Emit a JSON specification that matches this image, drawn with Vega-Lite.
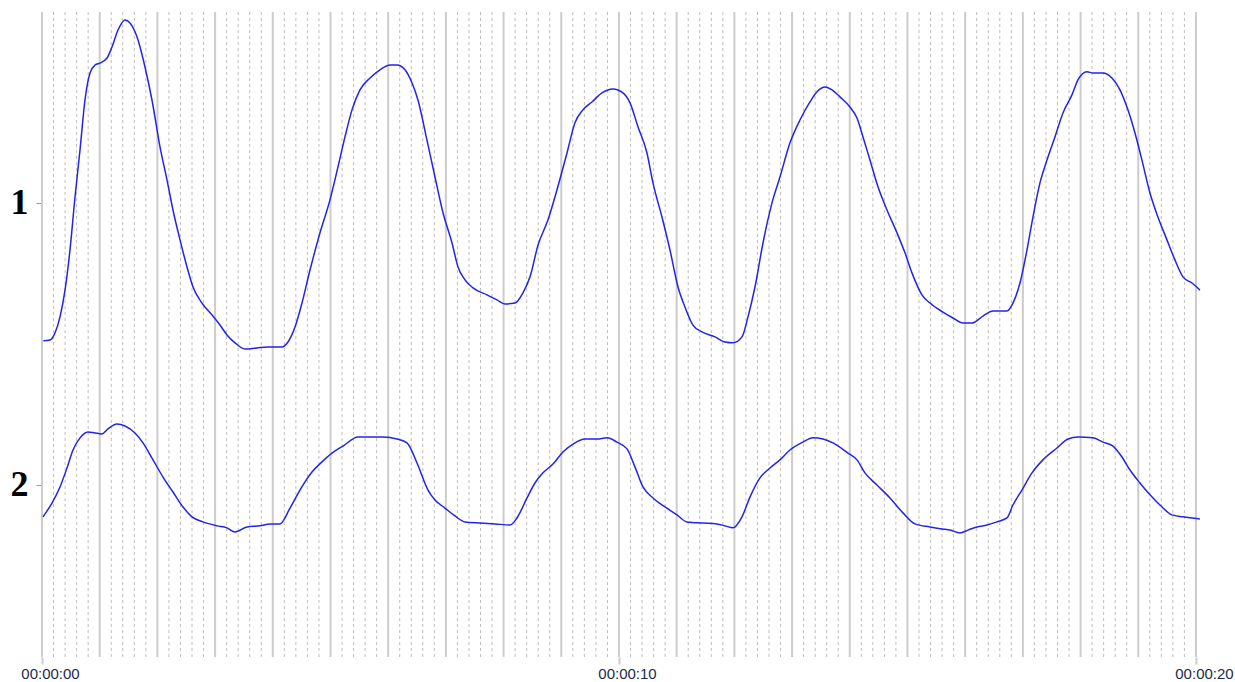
{
  "$schema": "https://vega.github.io/schema/vega-lite/v6.json",
  "autosize": {"type": "none"},
  "padding": {"left": 42, "top": 12, "right": 35, "bottom": 25},
  "width": 1158,
  "height": 645,
  "background": "white",
  "config": {"view": {"stroke": null}},
  "datasets": {
    "major": [{"t":0},{"t":1},{"t":2},{"t":3},{"t":4},{"t":5},{"t":6},{"t":7},{"t":8},{"t":9},{"t":10},{"t":11},{"t":12},{"t":13},{"t":14},{"t":15},{"t":16},{"t":17},{"t":18},{"t":19},{"t":20}],
    "minor": [{"t":0.2},{"t":0.4},{"t":0.6},{"t":0.8},{"t":1.2},{"t":1.4},{"t":1.6},{"t":1.8},{"t":2.2},{"t":2.4},{"t":2.6},{"t":2.8},{"t":3.2},{"t":3.4},{"t":3.6},{"t":3.8},{"t":4.2},{"t":4.4},{"t":4.6},{"t":4.8},{"t":5.2},{"t":5.4},{"t":5.6},{"t":5.8},{"t":6.2},{"t":6.4},{"t":6.6},{"t":6.8},{"t":7.2},{"t":7.4},{"t":7.6},{"t":7.8},{"t":8.2},{"t":8.4},{"t":8.6},{"t":8.8},{"t":9.2},{"t":9.4},{"t":9.6},{"t":9.8},{"t":10.2},{"t":10.4},{"t":10.6},{"t":10.8},{"t":11.2},{"t":11.4},{"t":11.6},{"t":11.8},{"t":12.2},{"t":12.4},{"t":12.6},{"t":12.8},{"t":13.2},{"t":13.4},{"t":13.6},{"t":13.8},{"t":14.2},{"t":14.4},{"t":14.6},{"t":14.8},{"t":15.2},{"t":15.4},{"t":15.6},{"t":15.8},{"t":16.2},{"t":16.4},{"t":16.6},{"t":16.8},{"t":17.2},{"t":17.4},{"t":17.6},{"t":17.8},{"t":18.2},{"t":18.4},{"t":18.6},{"t":18.8},{"t":19.2},{"t":19.4},{"t":19.6},{"t":19.8}],
    "signal": [
      {"ch":"1","t":0.023,"v":1.489},{"ch":"1","t":0.139,"v":1.486},{"ch":"1","t":0.225,"v":1.461},{"ch":"1","t":0.312,"v":1.404},{"ch":"1","t":0.399,"v":1.309},{"ch":"1","t":0.485,"v":1.167},{"ch":"1","t":0.572,"v":0.979},{"ch":"1","t":0.659,"v":0.812},{"ch":"1","t":0.745,"v":0.635},{"ch":"1","t":0.832,"v":0.539},{"ch":"1","t":0.919,"v":0.511},{"ch":"1","t":1.005,"v":0.504},{"ch":"1","t":1.127,"v":0.486},{"ch":"1","t":1.213,"v":0.447},{"ch":"1","t":1.317,"v":0.387},{"ch":"1","t":1.438,"v":0.351},{"ch":"1","t":1.525,"v":0.362},{"ch":"1","t":1.646,"v":0.411},{"ch":"1","t":1.785,"v":0.518},{"ch":"1","t":1.906,"v":0.635},{"ch":"1","t":2.045,"v":0.801},{"ch":"1","t":2.166,"v":0.918},{"ch":"1","t":2.27,"v":1.025},{"ch":"1","t":2.392,"v":1.131},{"ch":"1","t":2.513,"v":1.227},{"ch":"1","t":2.617,"v":1.298},{"ch":"1","t":2.773,"v":1.355},{"ch":"1","t":2.946,"v":1.397},{"ch":"1","t":3.085,"v":1.433},{"ch":"1","t":3.206,"v":1.468},{"ch":"1","t":3.345,"v":1.496},{"ch":"1","t":3.518,"v":1.518},{"ch":"1","t":3.726,"v":1.514},{"ch":"1","t":3.917,"v":1.511},{"ch":"1","t":4.159,"v":1.511},{"ch":"1","t":4.263,"v":1.493},{"ch":"1","t":4.385,"v":1.44},{"ch":"1","t":4.506,"v":1.355},{"ch":"1","t":4.645,"v":1.238},{"ch":"1","t":4.818,"v":1.106},{"ch":"1","t":4.991,"v":0.989},{"ch":"1","t":5.13,"v":0.872},{"ch":"1","t":5.251,"v":0.766},{"ch":"1","t":5.373,"v":0.67},{"ch":"1","t":5.511,"v":0.599},{"ch":"1","t":5.685,"v":0.557},{"ch":"1","t":5.858,"v":0.528},{"ch":"1","t":6.031,"v":0.511},{"ch":"1","t":6.153,"v":0.511},{"ch":"1","t":6.291,"v":0.528},{"ch":"1","t":6.412,"v":0.574},{"ch":"1","t":6.516,"v":0.635},{"ch":"1","t":6.672,"v":0.777},{"ch":"1","t":6.811,"v":0.908},{"ch":"1","t":6.95,"v":1.035},{"ch":"1","t":7.106,"v":1.142},{"ch":"1","t":7.21,"v":1.227},{"ch":"1","t":7.331,"v":1.273},{"ch":"1","t":7.47,"v":1.301},{"ch":"1","t":7.712,"v":1.326},{"ch":"1","t":7.886,"v":1.344},{"ch":"1","t":8.024,"v":1.358},{"ch":"1","t":8.198,"v":1.355},{"ch":"1","t":8.336,"v":1.319},{"ch":"1","t":8.458,"v":1.262},{"ch":"1","t":8.596,"v":1.15},{"ch":"1","t":8.77,"v":1.06},{"ch":"1","t":8.925,"v":0.954},{"ch":"1","t":9.099,"v":0.823},{"ch":"1","t":9.237,"v":0.716},{"ch":"1","t":9.376,"v":0.67},{"ch":"1","t":9.532,"v":0.642},{"ch":"1","t":9.705,"v":0.61},{"ch":"1","t":9.896,"v":0.596},{"ch":"1","t":10.069,"v":0.61},{"ch":"1","t":10.191,"v":0.645},{"ch":"1","t":10.329,"v":0.73},{"ch":"1","t":10.485,"v":0.823},{"ch":"1","t":10.589,"v":0.929},{"ch":"1","t":10.745,"v":1.05},{"ch":"1","t":10.884,"v":1.167},{"ch":"1","t":11.023,"v":1.298},{"ch":"1","t":11.144,"v":1.369},{"ch":"1","t":11.282,"v":1.433},{"ch":"1","t":11.438,"v":1.457},{"ch":"1","t":11.664,"v":1.475},{"ch":"1","t":11.837,"v":1.493},{"ch":"1","t":11.976,"v":1.496},{"ch":"1","t":12.132,"v":1.475},{"ch":"1","t":12.236,"v":1.404},{"ch":"1","t":12.357,"v":1.298},{"ch":"1","t":12.496,"v":1.142},{"ch":"1","t":12.652,"v":1.0},{"ch":"1","t":12.79,"v":0.908},{"ch":"1","t":12.964,"v":0.787},{"ch":"1","t":13.137,"v":0.706},{"ch":"1","t":13.31,"v":0.642},{"ch":"1","t":13.432,"v":0.606},{"ch":"1","t":13.57,"v":0.589},{"ch":"1","t":13.692,"v":0.599},{"ch":"1","t":13.83,"v":0.624},{"ch":"1","t":14.003,"v":0.66},{"ch":"1","t":14.125,"v":0.699},{"ch":"1","t":14.229,"v":0.766},{"ch":"1","t":14.35,"v":0.848},{"ch":"1","t":14.489,"v":0.943},{"ch":"1","t":14.645,"v":1.025},{"ch":"1","t":14.818,"v":1.106},{"ch":"1","t":14.957,"v":1.177},{"ch":"1","t":15.078,"v":1.248},{"ch":"1","t":15.251,"v":1.326},{"ch":"1","t":15.39,"v":1.355},{"ch":"1","t":15.615,"v":1.387},{"ch":"1","t":15.789,"v":1.408},{"ch":"1","t":15.962,"v":1.426},{"ch":"1","t":16.118,"v":1.426},{"ch":"1","t":16.308,"v":1.401},{"ch":"1","t":16.482,"v":1.383},{"ch":"1","t":16.724,"v":1.383},{"ch":"1","t":16.828,"v":1.355},{"ch":"1","t":16.95,"v":1.284},{"ch":"1","t":17.071,"v":1.167},{"ch":"1","t":17.175,"v":1.05},{"ch":"1","t":17.296,"v":0.929},{"ch":"1","t":17.418,"v":0.848},{"ch":"1","t":17.556,"v":0.766},{"ch":"1","t":17.695,"v":0.681},{"ch":"1","t":17.851,"v":0.617},{"ch":"1","t":17.955,"v":0.564},{"ch":"1","t":18.111,"v":0.535},{"ch":"1","t":18.215,"v":0.539},{"ch":"1","t":18.388,"v":0.539},{"ch":"1","t":18.544,"v":0.557},{"ch":"1","t":18.683,"v":0.599},{"ch":"1","t":18.821,"v":0.67},{"ch":"1","t":18.943,"v":0.752},{"ch":"1","t":19.064,"v":0.848},{"ch":"1","t":19.203,"v":0.965},{"ch":"1","t":19.341,"v":1.05},{"ch":"1","t":19.497,"v":1.131},{"ch":"1","t":19.636,"v":1.202},{"ch":"1","t":19.775,"v":1.262},{"ch":"1","t":19.931,"v":1.284},{"ch":"1","t":20.069,"v":1.309},
      {"ch":"2","t":0.017,"v":2.113},{"ch":"2","t":0.173,"v":2.064},{"ch":"2","t":0.312,"v":2.007},{"ch":"2","t":0.433,"v":1.94},{"ch":"2","t":0.537,"v":1.876},{"ch":"2","t":0.659,"v":1.833},{"ch":"2","t":0.797,"v":1.812},{"ch":"2","t":0.919,"v":1.816},{"ch":"2","t":1.04,"v":1.819},{"ch":"2","t":1.144,"v":1.801},{"ch":"2","t":1.3,"v":1.784},{"ch":"2","t":1.438,"v":1.791},{"ch":"2","t":1.612,"v":1.816},{"ch":"2","t":1.75,"v":1.851},{"ch":"2","t":1.924,"v":1.911},{"ch":"2","t":2.097,"v":1.972},{"ch":"2","t":2.27,"v":2.025},{"ch":"2","t":2.444,"v":2.078},{"ch":"2","t":2.6,"v":2.113},{"ch":"2","t":2.79,"v":2.131},{"ch":"2","t":3.033,"v":2.145},{"ch":"2","t":3.206,"v":2.152},{"ch":"2","t":3.345,"v":2.167},{"ch":"2","t":3.553,"v":2.149},{"ch":"2","t":3.778,"v":2.145},{"ch":"2","t":3.951,"v":2.138},{"ch":"2","t":4.125,"v":2.138},{"ch":"2","t":4.298,"v":2.082},{"ch":"2","t":4.471,"v":2.018},{"ch":"2","t":4.679,"v":1.954},{"ch":"2","t":4.853,"v":1.918},{"ch":"2","t":5.026,"v":1.887},{"ch":"2","t":5.217,"v":1.862},{"ch":"2","t":5.477,"v":1.83},{"ch":"2","t":5.685,"v":1.83},{"ch":"2","t":5.91,"v":1.83},{"ch":"2","t":6.153,"v":1.837},{"ch":"2","t":6.326,"v":1.851},{"ch":"2","t":6.499,"v":1.922},{"ch":"2","t":6.69,"v":2.018},{"ch":"2","t":6.811,"v":2.053},{"ch":"2","t":6.984,"v":2.082},{"ch":"2","t":7.158,"v":2.11},{"ch":"2","t":7.331,"v":2.131},{"ch":"2","t":7.591,"v":2.135},{"ch":"2","t":7.851,"v":2.138},{"ch":"2","t":8.111,"v":2.142},{"ch":"2","t":8.232,"v":2.117},{"ch":"2","t":8.406,"v":2.046},{"ch":"2","t":8.544,"v":1.993},{"ch":"2","t":8.683,"v":1.957},{"ch":"2","t":8.856,"v":1.926},{"ch":"2","t":9.029,"v":1.883},{"ch":"2","t":9.203,"v":1.855},{"ch":"2","t":9.411,"v":1.837},{"ch":"2","t":9.619,"v":1.837},{"ch":"2","t":9.792,"v":1.833},{"ch":"2","t":9.965,"v":1.848},{"ch":"2","t":10.139,"v":1.872},{"ch":"2","t":10.277,"v":1.936},{"ch":"2","t":10.416,"v":2.007},{"ch":"2","t":10.589,"v":2.046},{"ch":"2","t":10.797,"v":2.078},{"ch":"2","t":11.005,"v":2.106},{"ch":"2","t":11.179,"v":2.131},{"ch":"2","t":11.456,"v":2.135},{"ch":"2","t":11.699,"v":2.138},{"ch":"2","t":11.837,"v":2.145},{"ch":"2","t":11.976,"v":2.152},{"ch":"2","t":12.132,"v":2.113},{"ch":"2","t":12.27,"v":2.043},{"ch":"2","t":12.444,"v":1.975},{"ch":"2","t":12.617,"v":1.94},{"ch":"2","t":12.79,"v":1.911},{"ch":"2","t":12.964,"v":1.876},{"ch":"2","t":13.189,"v":1.848},{"ch":"2","t":13.362,"v":1.833},{"ch":"2","t":13.536,"v":1.837},{"ch":"2","t":13.709,"v":1.851},{"ch":"2","t":13.969,"v":1.887},{"ch":"2","t":14.125,"v":1.911},{"ch":"2","t":14.263,"v":1.957},{"ch":"2","t":14.471,"v":2.0},{"ch":"2","t":14.697,"v":2.046},{"ch":"2","t":14.922,"v":2.099},{"ch":"2","t":15.13,"v":2.138},{"ch":"2","t":15.39,"v":2.149},{"ch":"2","t":15.598,"v":2.156},{"ch":"2","t":15.737,"v":2.16},{"ch":"2","t":15.91,"v":2.17},{"ch":"2","t":16.049,"v":2.16},{"ch":"2","t":16.205,"v":2.149},{"ch":"2","t":16.378,"v":2.142},{"ch":"2","t":16.551,"v":2.131},{"ch":"2","t":16.724,"v":2.117},{"ch":"2","t":16.828,"v":2.071},{"ch":"2","t":16.984,"v":2.018},{"ch":"2","t":17.158,"v":1.957},{"ch":"2","t":17.348,"v":1.911},{"ch":"2","t":17.591,"v":1.869},{"ch":"2","t":17.782,"v":1.837},{"ch":"2","t":17.955,"v":1.83},{"ch":"2","t":18.215,"v":1.833},{"ch":"2","t":18.388,"v":1.848},{"ch":"2","t":18.562,"v":1.862},{"ch":"2","t":18.718,"v":1.901},{"ch":"2","t":18.856,"v":1.947},{"ch":"2","t":19.029,"v":1.993},{"ch":"2","t":19.203,"v":2.035},{"ch":"2","t":19.376,"v":2.071},{"ch":"2","t":19.584,"v":2.106},{"ch":"2","t":19.775,"v":2.113},{"ch":"2","t":20.069,"v":2.121}
    ]
  },
  "encoding": {
    "x": {
      "field": "t", "type": "quantitative",
      "scale": {"domain": [0, 20.07], "nice": false, "zero": false},
      "axis": {
        "values": [0, 10, 20], "title": null, "domain": false, "grid": false,
        "tickSize": 7, "tickColor": "#cccccc", "tickWidth": 2,
        "labelExpr": "datum.value == 0 ? '00:00:00' : datum.value == 10 ? '00:00:10' : '00:00:20'",
        "labelFont": "Liberation Sans", "labelFontSize": 15, "labelColor": "#1c2b4a",
        "labelPadding": 2, "labelAlign": "center", "labelOffset": 8, "labelOverlap": false, "labelFlush": false
      }
    }
  },
  "layer": [
    {
      "data": {"name": "minor"},
      "mark": {"type": "rule", "color": "#bdbdbd", "strokeWidth": 1, "strokeDash": [3, 3]}
    },
    {
      "data": {"name": "major"},
      "mark": {"type": "rule", "color": "#cccccc", "strokeWidth": 2}
    },
    {
      "data": {"name": "signal"},
      "mark": {"type": "line", "color": "#2323ee", "strokeWidth": 1.5, "interpolate": "monotone", "clip": false},
      "encoding": {
        "y": {
          "field": "v", "type": "quantitative",
          "scale": {"domain": [0.323, 2.61], "reverse": true, "nice": false, "zero": false},
          "axis": {
            "values": [1, 2], "title": null, "domain": false, "grid": false,
            "tickSize": 6, "tickColor": "#999999",
            "labelFont": "Liberation Serif", "labelFontWeight": "bold", "labelFontSize": 36,
            "labelColor": "#000000", "labelPadding": 8, "labelExpr": "datum.value == 1 ? '1' : '2'"
          }
        },
        "detail": {"field": "ch", "type": "nominal"}
      }
    }
  ]
}
